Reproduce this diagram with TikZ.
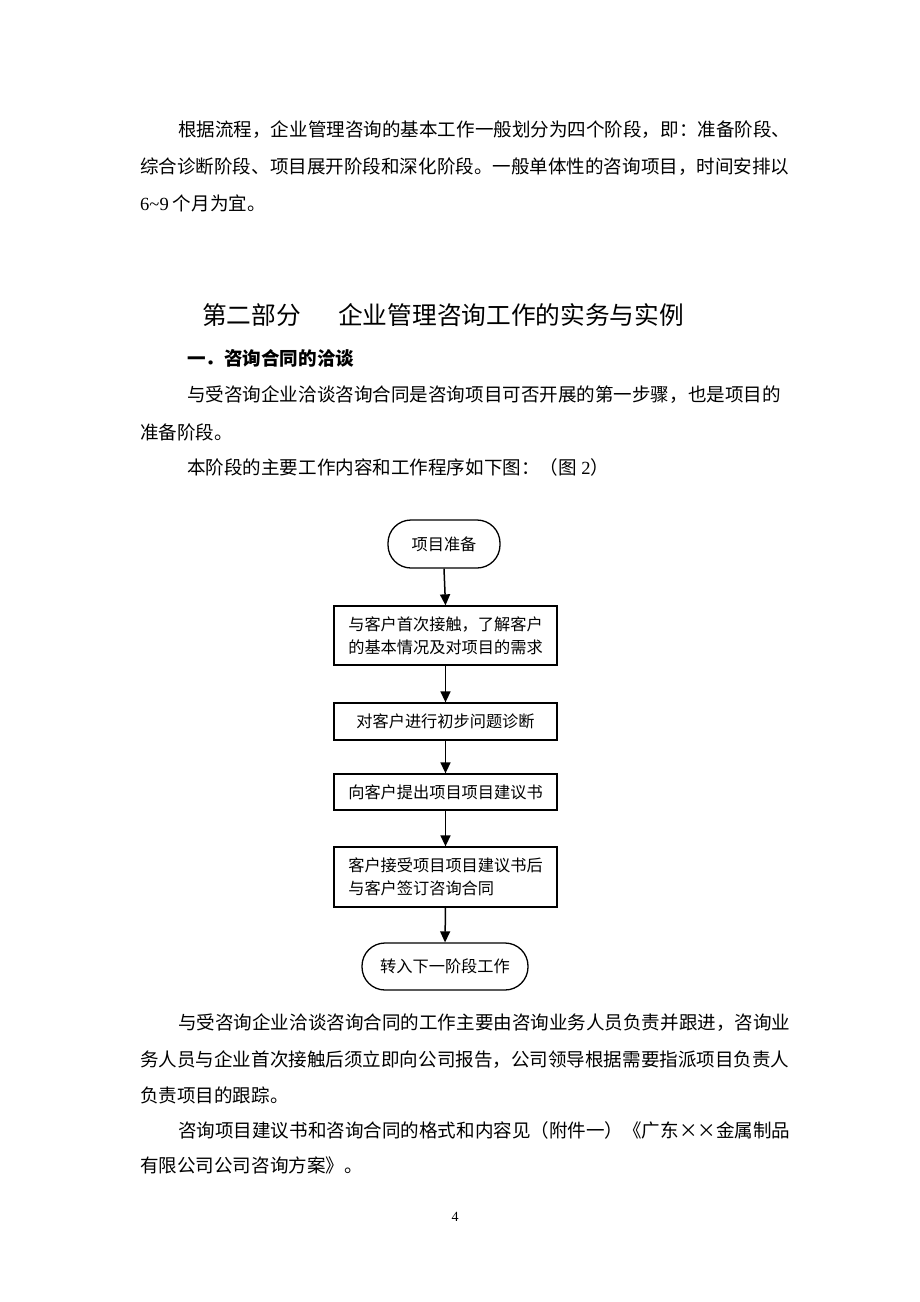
\documentclass[tikz,border=0pt]{standalone}
\usepackage{fontspec}
\setmainfont{Liberation Serif}
\newfontfamily\cjk{Noto Sans CJK SC}
\usetikzlibrary{arrows.meta}
\begin{document}
\begin{tikzpicture}[x=1pt,y=-1pt,
  body/.style={anchor=west, inner sep=0pt, font=\cjk\fontsize{18.55}{20}\selectfont},
  headline/.style={anchor=west, inner sep=0pt, font=\cjk\fontsize{24.7}{26}\selectfont},
  subhead/.style={anchor=west, inner sep=0pt, font=\cjk\bfseries\fontsize{18.55}{20}\selectfont},
  flowbox/.style={draw, line width=1.3pt, minimum width=223pt, inner sep=0pt, align=left,
    font=\cjk\fontsize{16.2}{23}\selectfont},
  termbox/.style={draw, line width=1.3pt, inner sep=0pt, rounded corners=23pt,
    font=\cjk\fontsize{16.2}{23}\selectfont},
  flowarrow/.style={line width=1.5pt, -{Triangle[length=11pt,width=10pt]}},
  pagenum/.style={inner sep=0pt, font=\fontsize{14}{16}\selectfont}]
\useasboundingbox (0,0) rectangle (920,1302);
\fill[white] (0,0) rectangle (920,1302);

% first paragraph
\node[body] (p1a) at (178,130) {根据流程，企业管理咨询的基本工作一般划分为四个阶段，即：准备阶段、};
\node[body] (p1b) at (140,167) {综合诊断阶段、项目展开阶段和深化阶段。一般单体性的咨询项目，时间安排以};
\node[body] (p1c) at (140,203) {{\rmfamily 6\textasciitilde 9} 个月为宜。};

% headings
\node[headline] (h1a) at (202,315) {第二部分};
\node[headline] (h1b) at (338,315) {企业管理咨询工作的实务与实例};
\node[subhead] (h2) at (187,358) {一．咨询合同的洽谈};

\node[body] (p2a) at (187,395) {与受咨询企业洽谈咨询合同是咨询项目可否开展的第一步骤，也是项目的};
\node[body] (p2b) at (140,432) {准备阶段。};
\node[body] (p3) at (187,467) {本阶段的主要工作内容和工作程序如下图：（图{\rmfamily\ 2}）};

% flowchart
\node[termbox, minimum width=112pt, minimum height=48pt] (t1) at (444,544) {项目准备};
\node[flowbox, minimum height=59pt] (b2) at (445.5,635.5) {与客户首次接触，了解客户\\的基本情况及对项目的需求};
\node[flowbox, minimum height=37pt] (b3) at (445.5,721.5) {对客户进行初步问题诊断};
\node[flowbox, minimum height=36pt] (b4) at (445.5,792) {向客户提出项目项目建议书};
\node[flowbox, minimum height=60pt] (b5) at (445.5,877) {客户接受项目项目建议书后\\与客户签订咨询合同};
\node[termbox, minimum width=166pt, minimum height=47pt] (t2) at (445,966.5) {转入下一阶段工作};

\draw[flowarrow] (t1.south) -- (b2.north);
\draw[flowarrow] (b2.south) -- (b3.north);
\draw[flowarrow] (b3.south) -- (b4.north);
\draw[flowarrow] (b4.south) -- (b5.north);
\draw[flowarrow] (b5.south) -- (t2.north);

% closing paragraphs
\node[body] (q1a) at (178,1023) {与受咨询企业洽谈咨询合同的工作主要由咨询业务人员负责并跟进，咨询业};
\node[body] (q1b) at (140,1060) {务人员与企业首次接触后须立即向公司报告，公司领导根据需要指派项目负责人};
\node[body] (q1c) at (140,1095) {负责项目的跟踪。};
\node[body] (q2a) at (178,1130) {咨询项目建议书和咨询合同的格式和内容见（附件一）《广东××金属制品};
\node[body] (q2b) at (140,1165) {有限公司公司咨询方案》。};

\node[pagenum] (pg) at (455,1217) {4};
\end{tikzpicture}
\end{document}
